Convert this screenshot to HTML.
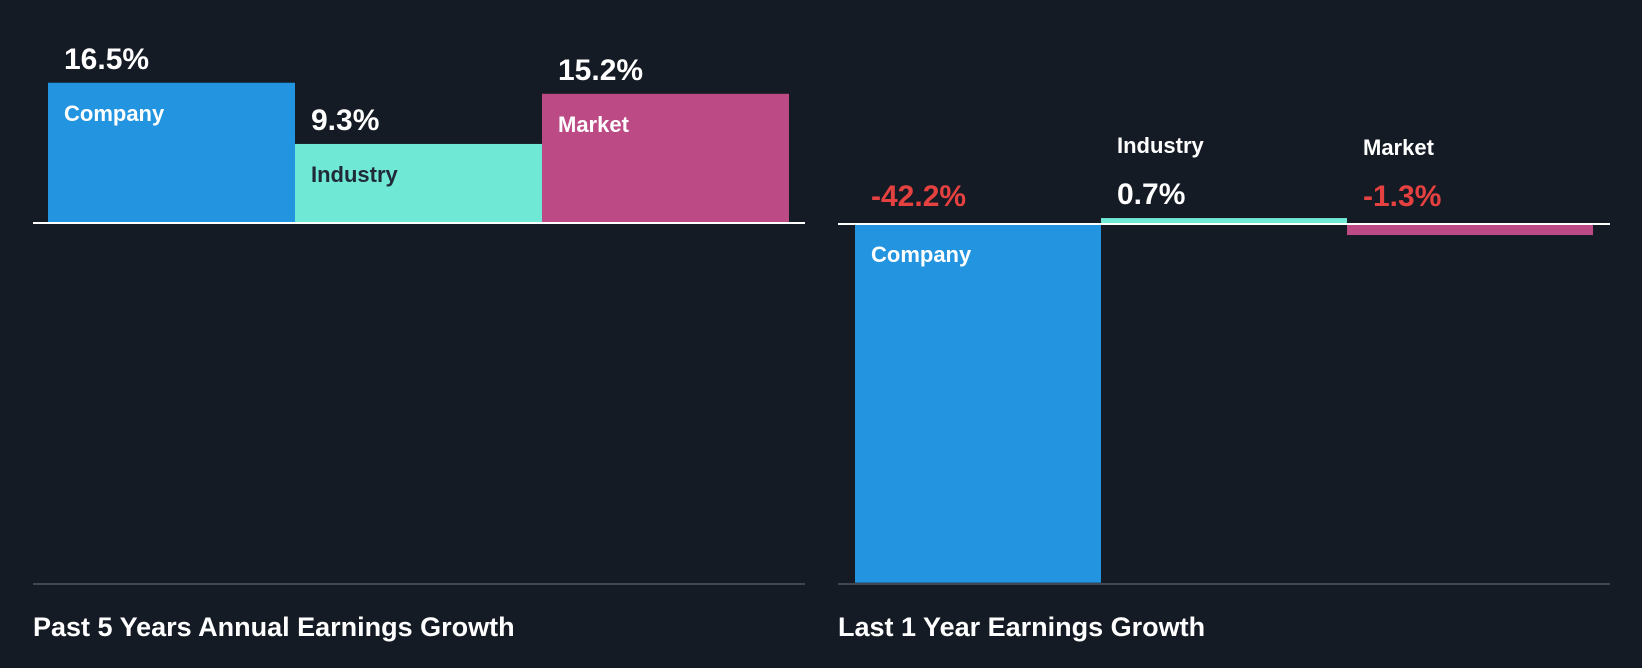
<!DOCTYPE html>
<html><head><meta charset="utf-8"><style>
html,body{margin:0;padding:0;background:#151b24;}
svg{display:block;font-family:"Liberation Sans",sans-serif;font-weight:bold;}
</style></head><body>
<svg id="chart" width="1642" height="668" viewBox="0 0 1642 668" xmlns="http://www.w3.org/2000/svg">
<rect width="1642" height="668" fill="#151b24"/>
</svg>
<script>
const categories = ["Company","Industry","Market"];
const pastValues = [16.5, 9.3, 15.2];
const lastValues = [-42.2, 0.7, -1.3];
const panelTitles = ["Past 5 Years Annual Earnings Growth","Last 1 Year Earnings Growth"];

const NS = "http://www.w3.org/2000/svg";
const svg = document.getElementById('chart');
const colors = ["#2394df","#6fe8d6","#bb4a85"];
const catTextColors = ["#ffffff","#1f2a36","#ffffff"];
const PX = 8.5;
function el(tag, attrs, text){
  const e = document.createElementNS(NS, tag);
  for (const k in attrs) e.setAttribute(k, attrs[k]);
  if (text !== undefined) e.textContent = text;
  svg.appendChild(e);
  return e;
}
function yScale(v, base){ return base - v*PX; }

function panel(values, x0, lineX0, lineX1, barW, base, bottom, title, key){
  values.forEach((v,i)=>{
    const x = x0 + i*barW;
    const y = Math.min(yScale(v,base), base);
    const h = Math.abs(v)*PX;
    const r = el('rect',{x:x,y:y,width:barW,height:h,fill:colors[i]});
    
    
    const valColor = v < 0 ? "#e64141" : "#ffffff";
    const valText = v.toFixed(1) + "%";
    let valY, catY, catFill;
    if (v >= 0){
      valY = yScale(v,base) - 14;
      if (h > 50){ catY = yScale(v,base) + 38; catFill = catTextColors[i]; }
      else { catY = valY - 51; catFill = "#ffffff"; }
    } else {
      valY = base - 18;
      if (h > 50){ catY = base + 38; catFill = catTextColors[i]; }
      else { catY = valY - 51; catFill = "#ffffff"; }
    }
    const vt = el('text',{x:x+16,y:valY,fill:valColor,'font-size':30}, valText);
    
    
    const ct = el('text',{x:x+16,y:catY,fill:catFill,'font-size':22}, categories[i]);
    
    
  });
  const zl = el('line',{x1:lineX0,x2:lineX1,y1:base,y2:base,stroke:"#ffffff",'stroke-width':2});
  
  
  const bl = el('line',{x1:lineX0,x2:lineX1,y1:bottom,y2:bottom,stroke:"#404652",'stroke-width':2});
  
  
  const t = el('text',{x:lineX0,y:636,fill:"#ffffff",'font-size':27}, title);
  
  
}
panel(pastValues, 48, 33, 805, 247, 223, 584, panelTitles[0], 'past-5y');
panel(lastValues, 855, 838, 1610, 246, 224, 584, panelTitles[1], 'last-1y');
</script>
</body></html>
